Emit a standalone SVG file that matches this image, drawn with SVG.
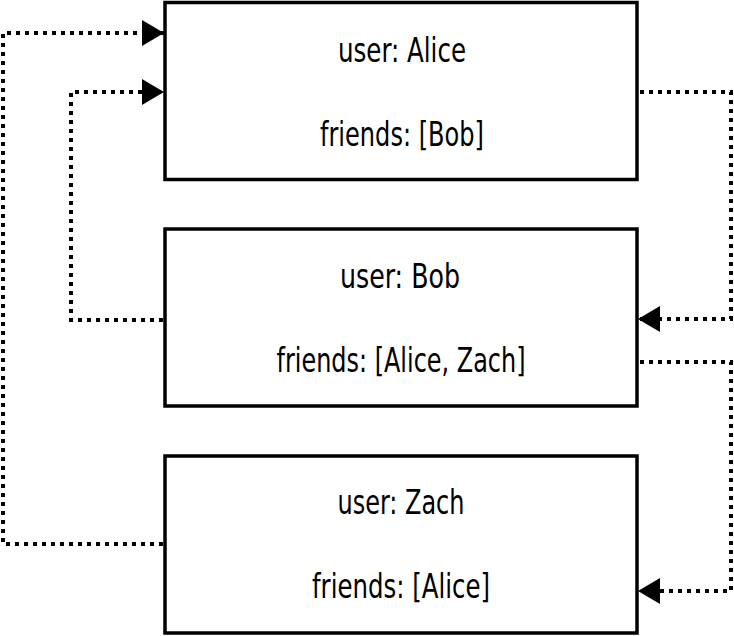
<svg xmlns="http://www.w3.org/2000/svg" width="734" height="636" viewBox="0 0 734 636">
<style>
.box{fill:#fff;stroke:#000;stroke-width:3.5}
.lbl{font-family:"DejaVu Sans Condensed","Liberation Sans Narrow","Liberation Sans",sans-serif;font-stretch:condensed;font-size:34px;fill:#000;text-anchor:middle}
.con{fill:none;stroke:#000;stroke-width:4;stroke-dasharray:4 5}
</style>
<defs>
<marker id="arr" viewBox="0 0 22 26" refX="22" refY="13" markerWidth="22" markerHeight="26" markerUnits="userSpaceOnUse" orient="auto">
<path d="M0,0 L22,13 L0,26 z" fill="#000"/>
</marker>
</defs>
<rect width="734" height="636" fill="#fff"/>
<g id="connectors">
<path class="con" d="M163,544 H3 V33 H164" marker-end="url(#arr)"/>
<path class="con" d="M163,320 H71 V92 H164" marker-end="url(#arr)"/>
<path class="con" d="M640,92 H731 V319 H638" marker-end="url(#arr)"/>
<path class="con" d="M640,362 H731 V591 H638" marker-end="url(#arr)"/>
</g>
<g id="alice">
<rect class="box" x="165" y="2.5" width="472" height="177"/>
<text class="lbl" x="402" y="62" textLength="128" lengthAdjust="spacingAndGlyphs">user: Alice</text>
<text class="lbl" x="402" y="146" textLength="164" lengthAdjust="spacingAndGlyphs">friends: [Bob]</text>
</g>
<g id="bob">
<rect class="box" x="165" y="229" width="472" height="177"/>
<text class="lbl" x="400" y="288" textLength="120" lengthAdjust="spacingAndGlyphs">user: Bob</text>
<text class="lbl" x="401" y="372" textLength="249" lengthAdjust="spacingAndGlyphs">friends: [Alice, Zach]</text>
</g>
<g id="zach">
<rect class="box" x="165" y="456" width="472" height="177"/>
<text class="lbl" x="401" y="514" textLength="127" lengthAdjust="spacingAndGlyphs">user: Zach</text>
<text class="lbl" x="401" y="598" textLength="178" lengthAdjust="spacingAndGlyphs">friends: [Alice]</text>
</g>
</svg>
